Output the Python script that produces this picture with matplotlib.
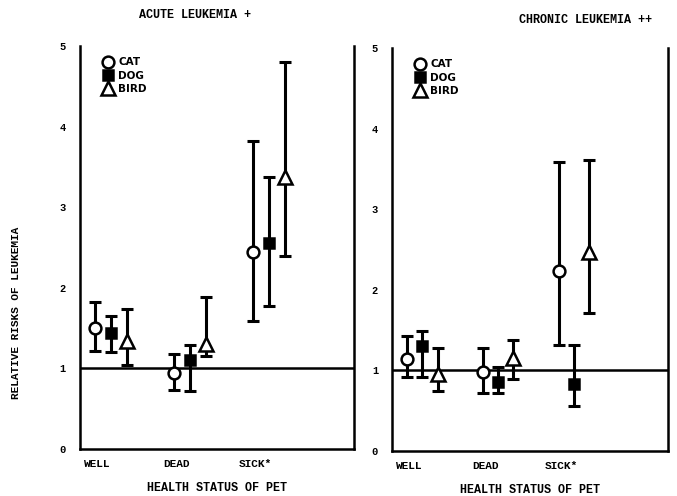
import numpy as np
import matplotlib
matplotlib.use("Agg")
import matplotlib.pyplot as plt

# Daten
status = ['WELL', 'DEAD', 'SICK*']
pets = ['CAT', 'DOG', 'BIRD']

acute_rr = {'CAT': [1.50, 0.94, 2.44],
            'DOG': [1.44, 1.10, 2.55],
            'BIRD': [1.34, 1.30, 3.38]}
acute_lo = {'CAT': [1.22, 0.73, 1.59],
            'DOG': [1.20, 0.72, 1.78],
            'BIRD': [1.04, 1.15, 2.39]}
acute_hi = {'CAT': [1.82, 1.18, 3.82],
            'DOG': [1.65, 1.29, 3.38],
            'BIRD': [1.74, 1.88, 4.80]}

chronic_rr = {'CAT': [1.14, 0.98, 2.23],
              'DOG': [1.30, 0.86, 0.83],
              'BIRD': [0.96, 1.15, 2.47]}
chronic_lo = {'CAT': [0.92, 0.72, 1.32],
              'DOG': [0.92, 0.72, 0.56],
              'BIRD': [0.74, 0.89, 1.71]}
chronic_hi = {'CAT': [1.43, 1.28, 3.59],
              'DOG': [1.49, 1.04, 1.32],
              'BIRD': [1.28, 1.38, 3.61]}

titles = ['ACUTE LEUKEMIA +', 'CHRONIC LEUKEMIA ++']
yticks = [0, 1, 2, 3, 4, 5]

styles = {'CAT': dict(marker='o', mfc='white', ms=8.5),
          'DOG': dict(marker='s', mfc='black', ms=7.5),
          'BIRD': dict(marker='^', mfc='white', ms=10)}
offsets = {'CAT': -0.2, 'DOG': 0.0, 'BIRD': 0.2}

mono = dict(family='Liberation Mono', weight='bold')

fig = plt.figure(figsize=(6.77, 4.96), dpi=100)
ax1 = fig.add_axes([0.118, 0.095, 0.405, 0.812])
ax2 = fig.add_axes([0.579, 0.091, 0.408, 0.812])

panels = [(ax1, acute_rr, acute_lo, acute_hi, (0.61, 4.08)),
          (ax2, chronic_rr, chronic_lo, chronic_hi, (0.60, 4.24))]

x = np.arange(1, len(status) + 1)
for i, (ax, rr, lo, hi, xlim) in enumerate(panels):
    for p in pets:
        v = np.array(rr[p])
        err = [v - np.array(lo[p]), np.array(hi[p]) - v]
        ax.errorbar(x + offsets[p], v, yerr=err, fmt='none', ecolor='black',
                    elinewidth=2.2, capsize=4, capthick=2.2, zorder=2)
        ax.plot(x + offsets[p], v, linestyle='none', color='black',
                mec='black', mew=1.8, zorder=3, label=p, **styles[p])
    ax.axhline(1, color='black', lw=1.8, zorder=1)
    ax.set_xlim(*xlim)
    ax.set_ylim(0, 5)
    ax.spines['top'].set_visible(False)
    for s in ['left', 'right', 'bottom']:
        ax.spines[s].set_linewidth(1.8)
    ax.set_yticks(yticks)
    ax.set_yticklabels([str(t) for t in yticks], fontsize=7.5, **mono)
    ax.set_xticks(x - 0.17)
    ax.set_xticklabels(status, fontsize=8, **mono)
    ax.tick_params(axis='x', length=0, pad=7)
    ax.tick_params(axis='y', length=0, pad=10)
    ax.set_xlabel('HEALTH STATUS OF PET', fontsize=8.5, labelpad=10, **mono)
    ax.legend(loc='upper left', bbox_to_anchor=(0.06, 0.99), frameon=False,
              handlelength=0.8, handletextpad=0.6, labelspacing=0.3,
              borderpad=0.2,
              prop=dict(family='DejaVu Sans', weight='bold', size=7.5))

ax1.set_title(titles[0], fontsize=8.5, pad=20, x=0.42, **mono)
ax2.set_title(titles[1], fontsize=8.5, pad=18, x=0.70, **mono)
fig.text(0.024, 0.37, 'RELATIVE RISKS OF LEUKEMIA', rotation=90,
         ha='center', va='center', fontsize=8, **mono)

fig.savefig('out.png', dpi=100)
